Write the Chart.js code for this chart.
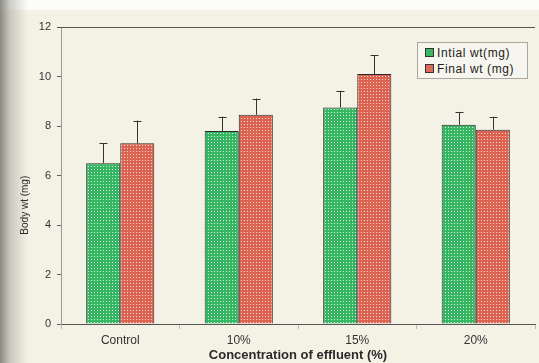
<!DOCTYPE html>
<html>
<head>
<meta charset="utf-8">
<script src="https://cdn.jsdelivr.net/npm/chart.js@4"></script>
<style>
  html, body { margin: 0; padding: 0; }
  body {
    width: 539px; height: 363px; overflow: hidden; position: relative;
    background:
      linear-gradient(to right, rgba(120,120,112,0.85) 0px, rgba(160,160,150,0.5) 10px, rgba(230,228,215,0) 28px),
      linear-gradient(to bottom, #fcfcfa 0px, #fcfcfa 9px, #f4f2e5 11px);
  }
  #wrap { position: absolute; left: 0; top: 0; width: 539px; height: 363px; }
  #legend {
    position: absolute; left: 417px; top: 42px; width: 109px; height: 35px;
    border: 1px solid #a8a8a0; background: #f7f6ee;
    font: 12px "Liberation Sans", Arial, sans-serif; letter-spacing: 0.6px; color: #222;
  }
  #legend div { position: absolute; left: 7px; white-space: nowrap; }
  #legend span {
    display: inline-block; width: 7px; height: 7px; border: 1px solid #333;
    margin-right: 3px; vertical-align: 0px;
  }
</style>
</head>
<body>
<div id="wrap"><canvas id="chart" width="539" height="363"></canvas></div>
<div id="legend">
  <div style="top:3px"><span style="background:#3cb567"></span>Intial wt(mg)</div>
  <div style="top:19px"><span style="background:#e06a5a"></span>Final wt (mg)</div>
</div>
<script>
  // ── Data ────────────────────────────────────────────────────────────────
  const categories = ["Control", "10%", "15%", "20%"];
  const initialWt = [6.5, 7.8, 8.75, 8.05];
  const initialErr = [0.8, 0.58, 0.67, 0.52];
  const finalWt = [7.3, 8.45, 10.1, 7.85];
  const finalErr = [0.92, 0.66, 0.77, 0.52];
  const yTicks = [0, 2, 4, 6, 8, 10, 12];

  const canvas = document.getElementById("chart");
  const ctx = canvas.getContext("2d");

  const makePattern = (base, dot) => {
    const c = document.createElement("canvas");
    c.width = 3;
    c.height = 3;
    const g = c.getContext("2d");
    g.fillStyle = base;
    g.fillRect(0, 0, 3, 3);
    g.fillStyle = dot;
    g.fillRect(1, 1, 1, 1);
    return ctx.createPattern(c, "repeat");
  };

  const errors = [initialErr, finalErr];

  const errorBarPlugin = {
    id: "errorBarPlugin",
    afterDatasetsDraw(chart) {
      const { ctx } = chart;
      const y = chart.scales.y;
      ctx.save();
      ctx.strokeStyle = "#333";
      ctx.lineWidth = 1;
      chart.data.datasets.forEach((dataset, di) => {
        const meta = chart.getDatasetMeta(di);
        meta.data.forEach((bar, i) => {
          const top = y.getPixelForValue(dataset.data[i] + errors[di][i]);
          const x = Math.round(bar.x) + 0.5;
          ctx.beginPath();
          ctx.moveTo(x, bar.y);
          ctx.lineTo(x, top);
          ctx.moveTo(x - 4, Math.round(top) + 0.5);
          ctx.lineTo(x + 4, Math.round(top) + 0.5);
          ctx.stroke();
        });
      });
      ctx.restore();
    },
  };

  const framePlugin = {
    id: "framePlugin",
    afterDraw(chart) {
      const { ctx, chartArea } = chart;
      ctx.save();
      // top border line
      ctx.strokeStyle = "#555";
      ctx.lineWidth = 1;
      ctx.beginPath();
      ctx.moveTo(chartArea.left - 4, Math.round(chartArea.top) + 0.5);
      ctx.lineTo(chartArea.right, Math.round(chartArea.top) + 0.5);
      ctx.stroke();
      // y axis title, placed a bit below the middle as in the scan
      ctx.translate(25, chartArea.top + (chartArea.bottom - chartArea.top) * 0.6);
      ctx.rotate(-Math.PI / 2);
      ctx.fillStyle = "#2a2a2a";
      ctx.font = "10px 'Liberation Sans', Arial, sans-serif";
      ctx.textAlign = "center";
      ctx.textBaseline = "middle";
      ctx.fillText("Body wt (mg)", 0, 0);
      ctx.restore();
    },
  };

  new Chart(canvas, {
    type: "bar",
    data: {
      labels: categories,
      datasets: [
        {
          label: "Intial wt(mg)",
          data: initialWt,
          backgroundColor: makePattern("#36b563", "#d6f3da"),
          borderColor: "#2a2a2a",
          borderWidth: 1,
          borderSkipped: "bottom",
          categoryPercentage: 0.575,
          barPercentage: 1.0,
        },
        {
          label: "Final wt (mg)",
          data: finalWt,
          backgroundColor: makePattern("#dc6352", "#f7d6cb"),
          borderColor: "#2a2a2a",
          borderWidth: 1,
          borderSkipped: "bottom",
          categoryPercentage: 0.575,
          barPercentage: 1.0,
        },
      ],
    },
    options: {
      responsive: false,
      animation: false,
      layout: { padding: { top: 27, right: 4, left: 0, bottom: 0 } },
      plugins: {
        legend: { display: false },
        tooltip: { enabled: false },
      },
      scales: {
        x: {
          afterFit(scale) { scale.height = 39; },
          grid: {
            display: true,
            drawOnChartArea: false,
            offset: true,
            tickLength: 5,
            color: "#bbb",
          },
          border: { display: true, color: "#555", width: 1 },
          ticks: {
            color: "#333",
            padding: 4,
            font: { family: "'Liberation Sans', Arial, sans-serif", size: 12 },
          },
          title: {
            display: true,
            text: "Concentration of effluent (%)",
            color: "#2a2a2a",
            padding: { top: 6, bottom: 0 },
            font: { family: "'Liberation Sans', Arial, sans-serif", size: 13, weight: "bold" },
          },
        },
        y: {
          min: 0,
          max: 12,
          afterFit(scale) { scale.width = 61; },
          afterBuildTicks(scale) { scale.ticks = yTicks.map((v) => ({ value: v })); },
          grid: {
            display: true,
            drawOnChartArea: false,
            tickLength: 4,
            color: "#666",
          },
          border: { display: true, color: "#999", width: 1, dash: [2, 2] },
          ticks: {
            color: "#333",
            padding: 6,
            font: { family: "'Liberation Sans', Arial, sans-serif", size: 11 },
          },
        },
      },
    },
    plugins: [errorBarPlugin, framePlugin],
  });
</script>
</body>
</html>
